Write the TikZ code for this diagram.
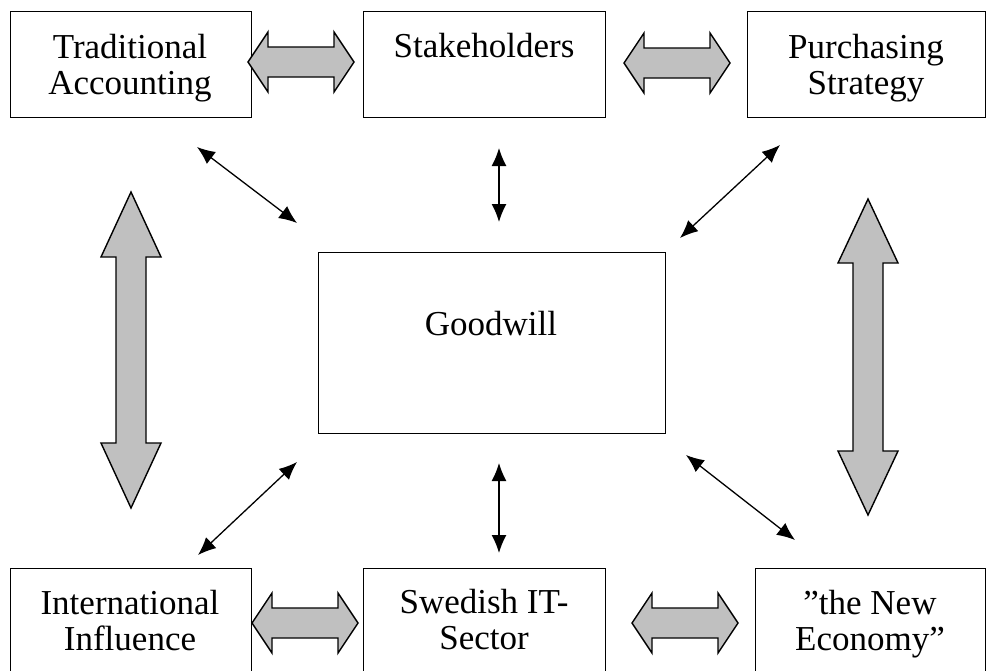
\documentclass[tikz,border=0pt]{standalone}
\usepackage{fontspec}
\setmainfont{Liberation Serif}
\usetikzlibrary{arrows.meta}
\definecolor{arrowgray}{HTML}{C0C0C0}
\begin{document}
\begin{tikzpicture}[x=1pt,y=-1pt,
  box/.style={draw=black,line width=1.4pt,fill=white,rectangle,inner sep=0pt,anchor=north west},
  lbl/.style={font=\fontsize{35}{36}\selectfont,align=center,inner sep=0pt,anchor=base},
  block/.style={draw=black,line width=1.4pt,fill=arrowgray,line join=miter},
  link/.style={line width=1.3pt,{Latex[length=18pt,width=15pt]}-{Latex[length=18pt,width=15pt]}}
]
\useasboundingbox (0,0) rectangle (987,670);
\clip (0,0) rectangle (987,670);

% boxes
\node[box,minimum width=241pt,minimum height=106pt] (ta) at (10,11) {};
\node[box,minimum width=242pt,minimum height=106pt] (sh) at (363,11) {};
\node[box,minimum width=238pt,minimum height=106pt] (ps) at (747,11) {};
\node[box,minimum width=347pt,minimum height=181pt] (gw) at (318,252) {};
\node[box,minimum width=241pt,minimum height=110pt] (ii) at (10,568) {};
\node[box,minimum width=242pt,minimum height=110pt] (sw) at (363,568) {};
\node[box,minimum width=230pt,minimum height=110pt] (ne) at (755,568) {};

% labels (anchor = baseline of the last line)
\node[lbl] (tat) at (130,94) {Traditional\\Accounting};
\node[lbl] (sht) at (484,57) {Stakeholders};
\node[lbl] (pst) at (866,94) {Purchasing\\Strategy};
\node[lbl] (gwt) at (491,335) {Goodwill};
\node[lbl] (iit) at (130,650) {International\\Influence};
\node[lbl] (swt) at (484,649) {Swedish IT-\\Sector};
\node[lbl] (net) at (870,650) {”the New\\Economy”};

% grey block arrows (horizontal)
\draw[block] (248,62) -- ++(20,-30) -- ++(0,15) -- ++(66,0) -- ++(0,-15) -- ++(20,30)
  -- ++(-20,30) -- ++(0,-15) -- ++(-66,0) -- ++(0,15) -- cycle;
\draw[block] (624,63) -- ++(20,-30) -- ++(0,15) -- ++(66,0) -- ++(0,-15) -- ++(20,30)
  -- ++(-20,30) -- ++(0,-15) -- ++(-66,0) -- ++(0,15) -- cycle;
\draw[block] (252,623) -- ++(20,-30) -- ++(0,15) -- ++(66,0) -- ++(0,-15) -- ++(20,30)
  -- ++(-20,30) -- ++(0,-15) -- ++(-66,0) -- ++(0,15) -- cycle;
\draw[block] (632,623) -- ++(20,-30) -- ++(0,15) -- ++(66,0) -- ++(0,-15) -- ++(20,30)
  -- ++(-20,30) -- ++(0,-15) -- ++(-66,0) -- ++(0,15) -- cycle;

% grey block arrows (vertical)
\draw[block] (131,192) -- ++(30,65) -- ++(-15,0) -- ++(0,186) -- ++(15,0) -- ++(-30,65)
  -- ++(-30,-65) -- ++(15,0) -- ++(0,-186) -- ++(-15,0) -- cycle;
\draw[block] (868,199) -- ++(30,64) -- ++(-15,0) -- ++(0,188) -- ++(15,0) -- ++(-30,64)
  -- ++(-30,-64) -- ++(15,0) -- ++(0,-188) -- ++(-15,0) -- cycle;

% thin double arrows
\coordinate (a1) at (197,147); \coordinate (a2) at (297,223);
\coordinate (b1) at (499,148); \coordinate (b2) at (499,222);
\coordinate (c1) at (780,145); \coordinate (c2) at (680,238);
\coordinate (d1) at (198,555); \coordinate (d2) at (297,462);
\coordinate (e1) at (499,553); \coordinate (e2) at (499,463);
\coordinate (f1) at (795,540); \coordinate (f2) at (686,455);
\draw[link] (a1) -- (a2);
\draw[link] (b1) -- (b2);
\draw[link] (c1) -- (c2);
\draw[link] (d1) -- (d2);
\draw[link] (e1) -- (e2);
\draw[link] (f1) -- (f2);
\end{tikzpicture}
\end{document}
